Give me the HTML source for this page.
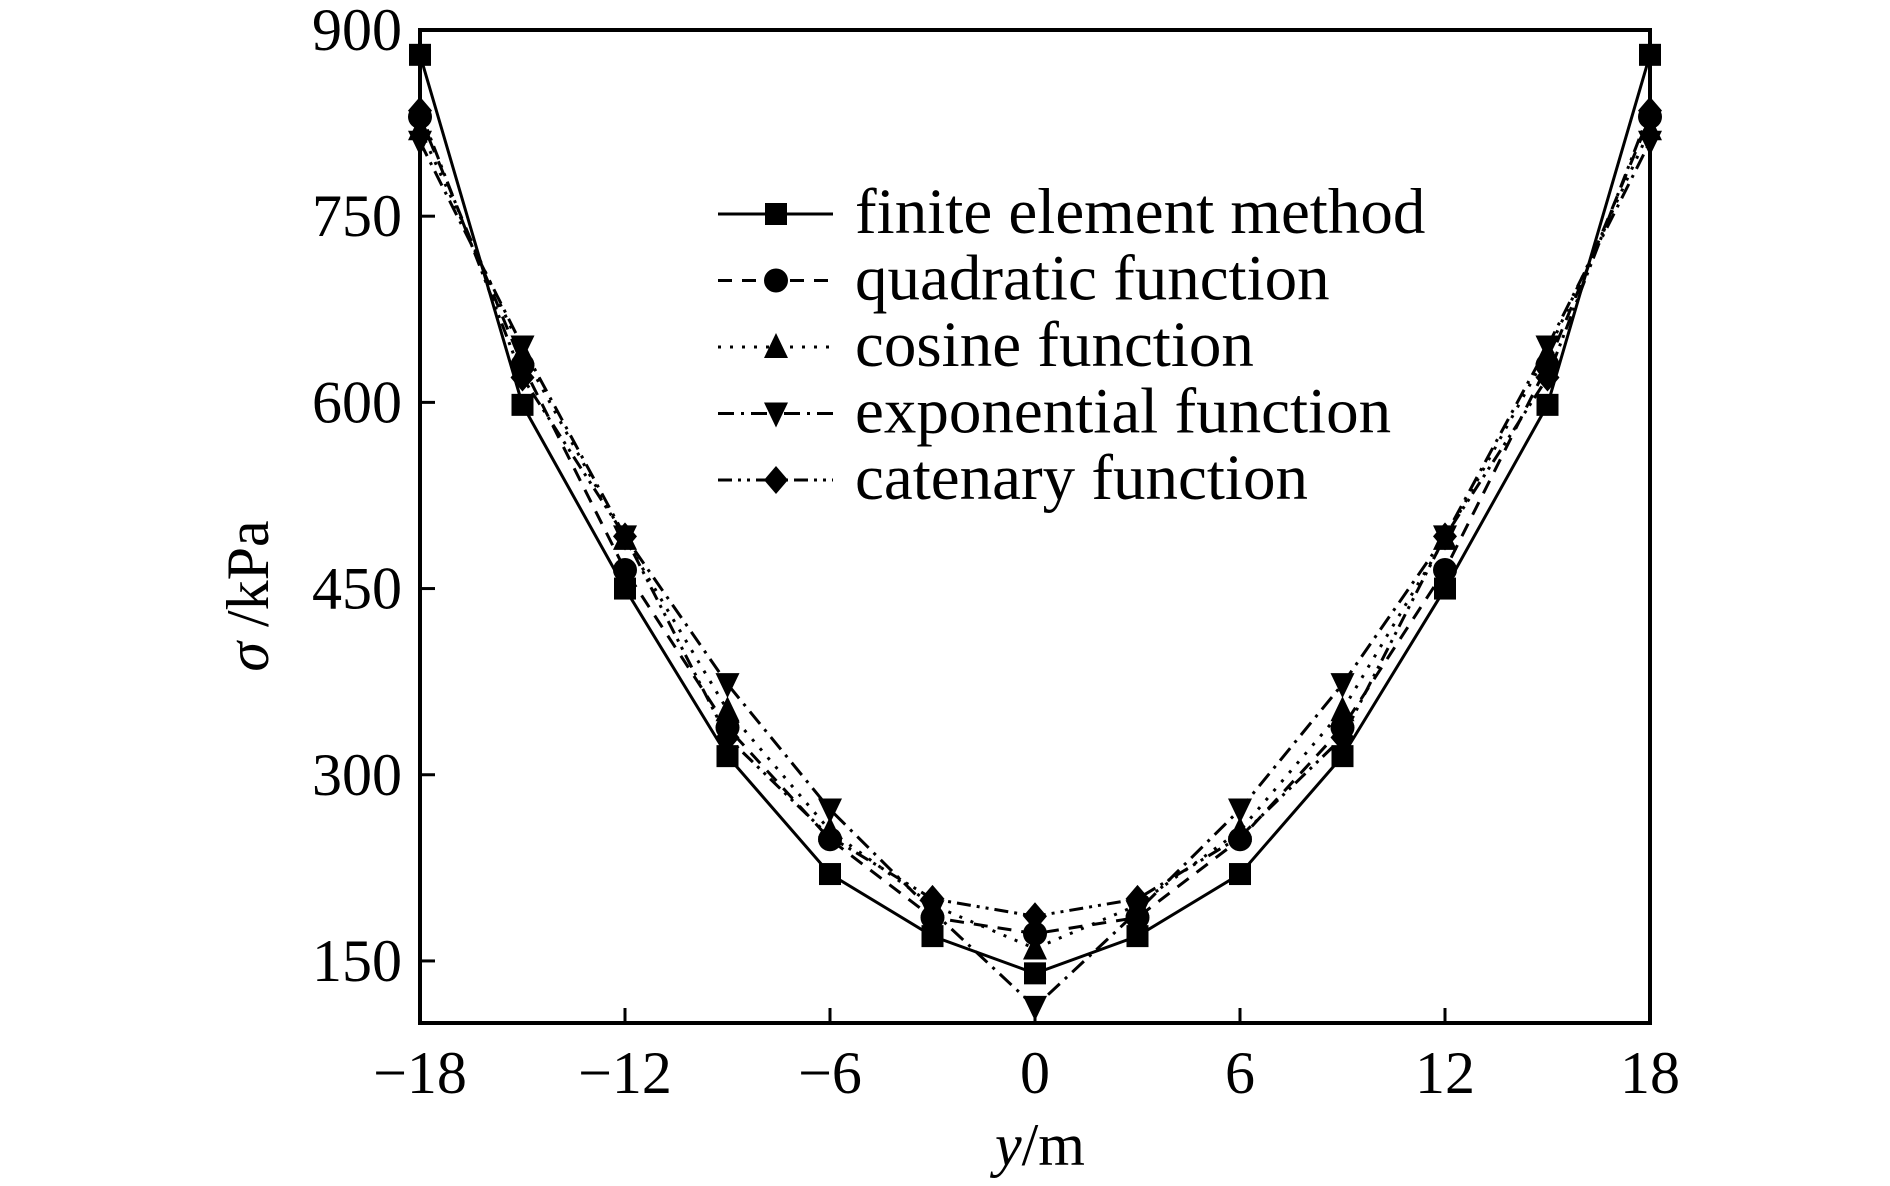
<!DOCTYPE html>
<html><head><meta charset="utf-8"><style>
body{margin:0;background:#fff}
svg text{font-family:"Liberation Serif",serif;fill:#000}
</style></head><body>
<svg id="chart" width="1890" height="1181" xmlns="http://www.w3.org/2000/svg">
<g id="marks"></g>
<g id="axes"></g>
</svg>
<script>
const xValues=[-18,-15,-12,-9,-6,-3,0,3,6,9,12,15,18];
const femValues=[880,598,450,315,220,170,140,170,220,315,450,598,880];
const quadValues=[830,630,465,338,248,185,172,185,248,338,465,630,830];
const cosValues=[820,640,490,352,255,195,160,195,255,352,490,640,820];
const expValues=[810,645,492,373,272,190,113,190,272,373,492,645,810];
const catValues=[835,620,492,330,250,200,186,200,250,330,492,620,835];
const xTicks=[-18,-12,-6,0,6,12,18];
const xTickLabels=["\u221218","\u221212","\u22126","0","6","12","18"];
const yTicks=[150,300,450,600,750,900];
const seriesNames=["finite element method","quadratic function","cosine function","exponential function","catenary function"];

const L=420,R=1650,T=30,B=1023,X0=-18,X1=18,Y0=100,Y1=900;
const sx=v=>L+(v-X0)/(X1-X0)*(R-L);
const sy=v=>B-(v-Y0)/(Y1-Y0)*(B-T);
const NS="http://www.w3.org/2000/svg";
const marks=document.getElementById('marks'),axes=document.getElementById('axes');
function mk(tag,attrs,parent){const e=document.createElementNS(NS,tag);for(const k in attrs)e.setAttribute(k,attrs[k]);parent.appendChild(e);return e;}
function marker(type,x,y,parent){
  const s=11;let e;
  if(type==='square')e=mk('rect',{x:x-s,y:y-s,width:2*s,height:2*s,fill:'#000'},parent);
  else if(type==='circle')e=mk('circle',{cx:x,cy:y,r:s+1,fill:'#000'},parent);
  else if(type==='up')e=mk('polygon',{points:`${x},${y-s-3} ${x-s-1},${y+s} ${x+s+1},${y+s}`,fill:'#000'},parent);
  else if(type==='down')e=mk('polygon',{points:`${x},${y+s+3} ${x-s-1},${y-s} ${x+s+1},${y-s}`,fill:'#000'},parent);
  else e=mk('polygon',{points:`${x},${y-s-3} ${x+s+1},${y} ${x},${y+s+3} ${x-s-1},${y}`,fill:'#000'},parent);
  return e;
}
const series=[
 {vals:femValues,dash:'',type:'square'},
 {vals:quadValues,dash:'14,10',type:'circle'},
 {vals:cosValues,dash:'3,9',type:'up'},
 {vals:expValues,dash:'16,7,3,7',type:'down'},
 {vals:catValues,dash:'14,6,3,6,3,6',type:'diamond'}];
series.forEach((s,i)=>{
  const g=mk('g',{},marks);
  
  
  const pts=xValues.map((x,j)=>sx(x)+','+sy(s.vals[j])).join(' ');
  const pl=mk('polyline',{points:pts,fill:'none',stroke:'#000','stroke-width':3,'stroke-dasharray':s.dash},g);
  
  
  xValues.forEach((x,j)=>{const m=marker(s.type,sx(x),sy(s.vals[j]),g);
    
    });
  const ly=214+i*66.5;
  const lg=mk('g',{},marks);
  
  
  mk('line',{x1:718,y1:ly,x2:833,y2:ly,stroke:'#000','stroke-width':3,'stroke-dasharray':s.dash},lg);
  marker(s.type,776,ly,lg);
  const t=mk('text',{x:855,y:ly+19,'font-size':65},lg);t.textContent=seriesNames[i];
});
const frame=mk('rect',{x:L,y:T,width:R-L,height:B-T,fill:'none',stroke:'#000','stroke-width':4},axes);


xTicks.forEach((v,i)=>{
  mk('line',{x1:sx(v),y1:B,x2:sx(v),y2:B-15,stroke:'#000','stroke-width':3},axes);
  const t=mk('text',{x:sx(v),y:B+70,'font-size':60,'text-anchor':'middle'},axes);
  t.textContent=xTickLabels[i];
  
  
});
yTicks.forEach(v=>{
  mk('line',{x1:L,y1:sy(v),x2:L+15,y2:sy(v),stroke:'#000','stroke-width':3},axes);
  const t=mk('text',{x:402,y:sy(v)+20,'font-size':60,'text-anchor':'end'},axes);
  t.textContent=v;
  
  
});
</script>
<svg style="position:absolute;left:0;top:0" width="1890" height="1181" xmlns="http://www.w3.org/2000/svg">
<text x="1040" y="1165" font-size="60" text-anchor="middle" font-family="Liberation Serif, serif"><tspan font-style="italic">y</tspan>/m</text>
<text transform="translate(268,596) rotate(-90)" font-size="60" text-anchor="middle" font-family="Liberation Serif, serif"><tspan font-style="italic">σ</tspan> /kPa</text>
</svg>
</body></html>
